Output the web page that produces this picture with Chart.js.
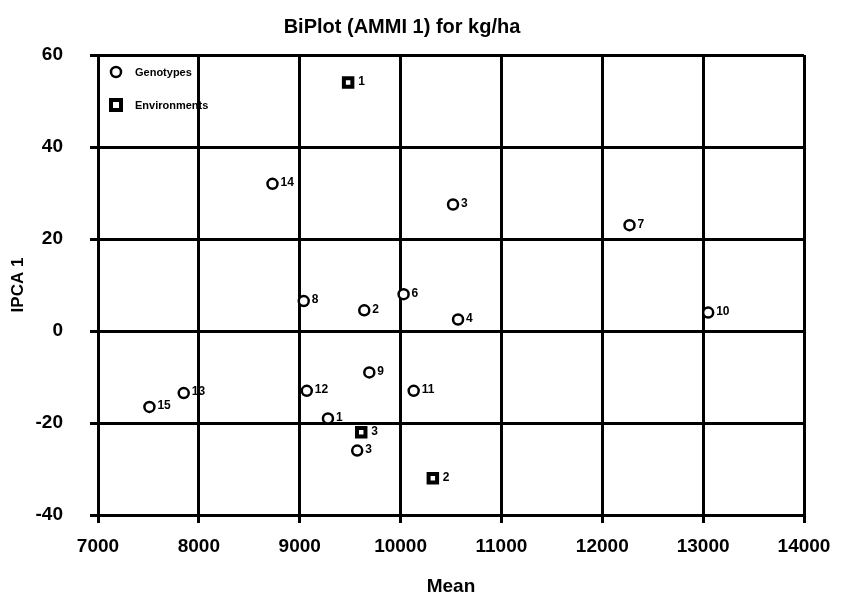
<!DOCTYPE html>
<html>
<head>
<meta charset="utf-8">
<script src="https://cdn.jsdelivr.net/npm/chart.js@4"></script>
<style>
  html, body { margin: 0; padding: 0; background: #fff; }
  #wrap { width: 844px; height: 598px; }
</style>
</head>
<body>
<div id="wrap"><canvas id="biplot" width="844" height="598"></canvas></div>
<script>
// genotypes: mean yield (kg/ha) vs IPCA 1 score
const genotypeLabels = ["1", "2", "3", "3", "4", "6", "7", "8", "9", "10", "11", "12", "13", "14", "15"];
const genotypeMean = [9280, 9640, 9570, 10520, 10570, 10030, 12270, 9040, 9690, 13050, 10130, 9070, 7850, 8730, 7510];
const genotypeIpca = [-19, 4.5, -26, 27.5, 2.5, 8, 23, 6.5, -9, 4, -13, -13, -13.5, 32, -16.5];

// environments
const envLabels = ["1", "2", "3"];
const envMean = [9480, 10320, 9610];
const envIpca = [54, -32, -22];

const xTicks = [7000, 8000, 9000, 10000, 11000, 12000, 13000, 14000];
const yTicks = [-40, -20, 0, 20, 40, 60];

const FONT = "'Liberation Sans', Arial, sans-serif";

const toPoints = (xs, ys) => xs.map((x, i) => ({ x: x, y: ys[i] }));

// small number next to each marker
const pointLabels = {
  id: 'pointLabels',
  afterDatasetsDraw(chart) {
    const ctx = chart.ctx;
    ctx.save();
    ctx.fillStyle = '#000';
    ctx.font = 'bold 12px ' + FONT;
    ctx.textBaseline = 'middle';
    chart.data.datasets.forEach((ds, i) => {
      const meta = chart.getDatasetMeta(i);
      meta.data.forEach((pt, j) => {
        const off = ds.pointStyle === 'rect' ? 10 : 8;
        ctx.fillText(ds.names[j], pt.x + off, pt.y - 1);
      });
    });
    ctx.restore();
  }
};

// legend box drawn inside the plot, top left
const insideLegend = {
  id: 'insideLegend',
  afterDraw(chart) {
    const ctx = chart.ctx;
    const a = chart.chartArea;
    ctx.save();
    ctx.strokeStyle = '#000';
    ctx.fillStyle = '#000';
    // circle
    ctx.lineWidth = 2.5;
    ctx.beginPath();
    ctx.arc(a.left + 18, a.top + 17, 5, 0, Math.PI * 2);
    ctx.stroke();
    // square
    ctx.lineWidth = 4;
    ctx.fillStyle = '#fff';
    ctx.fillRect(a.left + 12, a.top + 44, 12, 12);
    ctx.strokeRect(a.left + 13, a.top + 45, 10, 10);
    ctx.fillStyle = '#000';
    ctx.font = 'bold 11px ' + FONT;
    ctx.textBaseline = 'middle';
    ctx.fillText('Genotypes', a.left + 37, a.top + 18);
    ctx.fillText('Environments', a.left + 37, a.top + 51);
    ctx.restore();
  }
};

new Chart(document.getElementById('biplot'), {
  type: 'scatter',
  data: {
    datasets: [
      {
        label: 'Genotypes',
        names: genotypeLabels,
        data: toPoints(genotypeMean, genotypeIpca),
        pointStyle: 'circle',
        pointRadius: 5,
        pointBorderWidth: 2.5,
        borderColor: '#000',
        backgroundColor: '#fff',
      },
      {
        label: 'Environments',
        names: envLabels,
        data: toPoints(envMean, envIpca),
        pointStyle: 'rect',
        pointRadius: 6,
        pointBorderWidth: 4,
        borderColor: '#000',
        backgroundColor: '#fff',
      },
    ],
  },
  options: {
    responsive: false,
    animation: false,
    layout: { padding: { top: 15, right: 40, bottom: 0, left: 0 } },
    plugins: {
      legend: { display: false },
      tooltip: { enabled: false },
      title: {
        display: true,
        text: 'BiPlot (AMMI 1) for kg/ha',
        color: '#000',
        font: { family: FONT, size: 20, weight: 'bold' },
        padding: { top: 0, bottom: 16 },
      },
    },
    scales: {
      x: {
        type: 'linear',
        min: 7000,
        max: 14000,
        afterBuildTicks: (s) => { s.ticks = xTicks.map(v => ({ value: v })); },
        afterFit: (s) => { s.height = 83; },
        ticks: {
          color: '#000',
          padding: 12,
          callback: (v) => String(v),
          font: { family: FONT, size: 19, weight: 'bold' },
        },
        grid: { color: '#000', lineWidth: 3, tickLength: 8 },
        border: { color: '#000', width: 3 },
        title: {
          display: true,
          text: 'Mean',
          color: '#000',
          font: { family: FONT, size: 19, weight: 'bold' },
          padding: { top: 4, bottom: 0 },
        },
      },
      y: {
        type: 'linear',
        min: -40,
        max: 60,
        afterBuildTicks: (s) => { s.ticks = yTicks.map(v => ({ value: v })); },
        afterFit: (s) => { s.width = 98; },
        ticks: {
          color: '#000',
          padding: 27,
          font: { family: FONT, size: 19, weight: 'bold' },
        },
        grid: { color: '#000', lineWidth: 3, tickLength: 8 },
        border: { color: '#000', width: 3 },
        title: {
          display: true,
          text: 'IPCA 1',
          color: '#000',
          font: { family: FONT, size: 17, weight: 'bold' },
          padding: { top: 8, bottom: 0 },
        },
      },
    },
  },
  plugins: [pointLabels, insideLegend],
});
</script>
</body>
</html>
